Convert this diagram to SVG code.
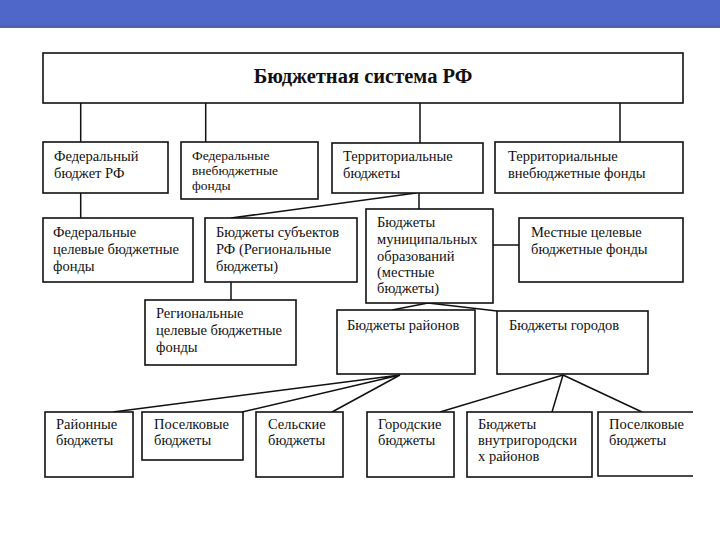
<svg xmlns="http://www.w3.org/2000/svg" width="720" height="540" viewBox="0 0 720 540">
<style>
.b{fill:#fff;stroke:#111;stroke-width:1.6}
.c{fill:none;stroke:#111;stroke-width:1.5}
.t{font-family:"Liberation Serif","Times New Roman",serif;font-size:14.5px;fill:#111}
.s{font-family:"Liberation Serif","Times New Roman",serif;font-size:13.5px;fill:#111}
.h{font-family:"Liberation Serif","Times New Roman",serif;font-size:20.5px;font-weight:bold;fill:#111}
</style>
<rect x="0" y="0" width="720" height="540" fill="#fff"/>
<rect x="0" y="0" width="720" height="26" fill="#4F67C8"/>
<rect x="0" y="25" width="720" height="3" fill="#5263A9"/>
<g id="connectors">
<path class="c" d="M80.7 103V142M205.7 103V142M420 103V143M620 103V142"/>
<path class="c" d="M80.7 193V218M419 193V209M416 193L231 218M493 245H519M231 282V300"/>
<path class="c" d="M428 303L392 310M428 303L497 311"/>
<path class="c" d="M400 375L113 412M400 375L242 412M400 375L332 412"/>
<path class="c" d="M563 375L440 412M563 375L552 412M563 375L642 412"/>
</g>
<g id="n-root"><rect class="b" x="43" y="53" width="640" height="50" stroke-width="2.2"/><text class="h" x="363" y="83" text-anchor="middle">Бюджетная система РФ</text></g>
<g id="n-fed"><rect class="b" x="43" y="142" width="125" height="51"/><text class="t" x="54" y="161">Федеральный</text><text class="t" x="54" y="178">бюджет РФ</text></g>
<g id="n-fedext"><rect class="b" x="181" y="142" width="137" height="57"/><text class="s" x="192" y="160">Федеральные</text><text class="s" x="192" y="175">внебюджетные</text><text class="s" x="192" y="190">фонды</text></g>
<g id="n-terr"><rect class="b" x="332" y="143" width="151" height="50"/><text class="t" x="343" y="161">Территориальные</text><text class="t" x="343" y="178">бюджеты</text></g>
<g id="n-terrext"><rect class="b" x="495" y="142" width="188" height="51"/><text class="t" x="508" y="161">Территориальные</text><text class="t" x="508" y="178">внебюджетные фонды</text></g>
<g id="n-fedfund"><rect class="b" x="43" y="218" width="150" height="64"/><text class="t" x="53" y="237">Федеральные</text><text class="t" x="53" y="254">целевые бюджетные</text><text class="t" x="53" y="271">фонды</text></g>
<g id="n-reg"><rect class="b" x="205" y="218" width="152" height="64"/><text class="t" x="216" y="237">Бюджеты субъектов</text><text class="t" x="216" y="254">РФ (Региональные</text><text class="t" x="216" y="271">бюджеты)</text></g>
<g id="n-mun"><rect class="b" x="366" y="209" width="127" height="94"/><text class="t" x="377" y="227">Бюджеты</text><text class="t" x="377" y="244">муниципальных</text><text class="t" x="377" y="261">образований</text><text class="t" x="377" y="277">(местные</text><text class="t" x="377" y="293">бюджеты)</text></g>
<g id="n-locfund"><rect class="b" x="519" y="218" width="164" height="64"/><text class="t" x="531" y="237">Местные целевые</text><text class="t" x="531" y="254">бюджетные фонды</text></g>
<g id="n-regfund"><rect class="b" x="145" y="300" width="151" height="65"/><text class="t" x="156" y="318">Региональные</text><text class="t" x="156" y="335">целевые бюджетные</text><text class="t" x="156" y="352">фонды</text></g>
<g id="n-rayon"><rect class="b" x="337" y="310" width="138" height="64"/><text class="t" x="347" y="330">Бюджеты районов</text></g>
<g id="n-gorod"><rect class="b" x="497" y="311" width="151" height="63"/><text class="t" x="509" y="330">Бюджеты городов</text></g>
<g id="n-rayonb"><rect class="b" x="45" y="412" width="88" height="65"/><text class="t" x="56" y="429">Районные</text><text class="t" x="56" y="445">бюджеты</text></g>
<g id="n-posel1"><rect class="b" x="142" y="412" width="101" height="48"/><text class="t" x="154" y="429">Поселковые</text><text class="t" x="154" y="445">бюджеты</text></g>
<g id="n-selsk"><rect class="b" x="256" y="412" width="87" height="65"/><text class="t" x="268" y="429">Сельские</text><text class="t" x="268" y="445">бюджеты</text></g>
<g id="n-gorodb"><rect class="b" x="367" y="412" width="87" height="65"/><text class="t" x="378" y="429">Городские</text><text class="t" x="378" y="445">бюджеты</text></g>
<g id="n-vnutr"><rect class="b" x="467" y="412" width="125" height="65"/><text class="t" x="478" y="429">Бюджеты</text><text class="t" x="478" y="445">внутригородски</text><text class="t" x="478" y="461">х районов</text></g>
<g id="n-posel2"><path class="b" d="M693 412H598V476H693"/><text class="t" x="609" y="429">Поселковые</text><text class="t" x="609" y="445">бюджеты</text></g>
</svg>
